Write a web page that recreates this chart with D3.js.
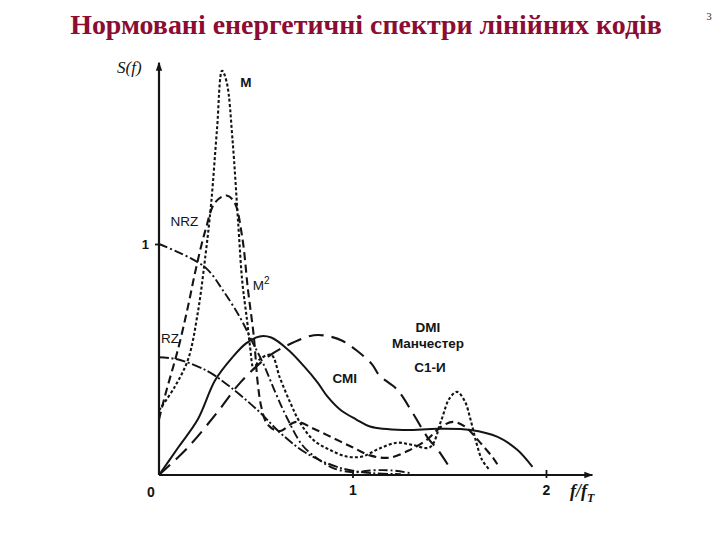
<!DOCTYPE html>
<html><head><meta charset="utf-8">
<script src="https://cdn.jsdelivr.net/npm/d3@7"></script>
<style>body{margin:0;background:#fff}svg{display:block}</style>
</head><body>
<svg id="c" width="720" height="540"></svg>
<script>
// ---- data (f / f_T , normalised S(f)) ----
const titleText = "Нормовані енергетичні спектри лінійних кодів";
const xTicks = [1, 2];
const yTicks = [1];
const seriesNames = ["M", "M2", "NRZ", "RZ", "CMI", "DMI"];
const M = [[0,0.28],[0.08,0.38],[0.15,0.5],[0.2,0.7],[0.24,0.95],[0.27,1.18],[0.3,1.5],[0.326,1.75],[0.35,1.7],[0.38,1.45],[0.41,1.08],[0.43,0.84],[0.455,0.67],[0.47,0.56],[0.49,0.46],[0.52,0.5],[0.58,0.52],[0.625,0.42],[0.68,0.31],[0.73,0.225],[0.8,0.15],[0.88,0.11],[0.97,0.08],[1.05,0.08],[1.14,0.115],[1.23,0.14],[1.31,0.13],[1.4,0.12],[1.46,0.24],[1.5,0.33],[1.54,0.36],[1.58,0.32],[1.61,0.24],[1.64,0.14],[1.67,0.065],[1.71,0.02]];
const M2 = [[0,0.24],[0.03,0.34],[0.1,0.55],[0.15,0.73],[0.19,0.89],[0.24,1.06],[0.29,1.18],[0.35,1.21],[0.39,1.18],[0.43,1.03],[0.46,0.8],[0.49,0.6],[0.51,0.4],[0.53,0.29],[0.56,0.22],[0.62,0.19],[0.71,0.23],[0.8,0.2],[0.9,0.16],[1.0,0.12],[1.09,0.085],[1.19,0.075],[1.3,0.11],[1.38,0.15],[1.46,0.21],[1.52,0.23],[1.58,0.21],[1.66,0.14],[1.73,0.07],[1.76,0.03]];
const NRZ = [[0,1.0],[0.16,0.94],[0.25,0.89],[0.33,0.8],[0.42,0.68],[0.48,0.58],[0.54,0.48],[0.6,0.36],[0.66,0.25],[0.74,0.13],[0.82,0.07],[0.9,0.03],[1.0,0.012],[1.1,0.02],[1.2,0.02],[1.3,0.008]];
const RZ = [[0,0.51],[0.1,0.5],[0.25,0.45],[0.37,0.38],[0.51,0.28],[0.63,0.18],[0.76,0.095],[0.94,0.03],[1.1,0.008],[1.25,0.004]];
const CMI = [[0,0],[0.1,0.12],[0.2,0.24],[0.29,0.41],[0.38,0.51],[0.45,0.57],[0.52,0.6],[0.58,0.595],[0.67,0.54],[0.75,0.47],[0.82,0.4],[0.87,0.34],[0.94,0.28],[1.02,0.24],[1.09,0.21],[1.26,0.195],[1.44,0.2],[1.61,0.195],[1.75,0.165],[1.85,0.11],[1.93,0.035]];
const DMI = [[0,0],[0.15,0.12],[0.3,0.27],[0.42,0.4],[0.56,0.51],[0.66,0.56],[0.8,0.605],[0.88,0.6],[0.95,0.58],[1.02,0.54],[1.1,0.48],[1.14,0.43],[1.23,0.37],[1.31,0.27],[1.39,0.16],[1.44,0.11],[1.5,0.035]];
const labels = [
  {t:"M", f:0.42, s:1.68, bold:true},
  {t:"NRZ", f:0.06, s:1.08, bold:false},
  {t:"M", sup:"2", f:0.485, s:0.8, bold:false},
  {t:"RZ", f:0.01, s:0.57, bold:false},
  {t:"DMI", f:1.39, s:0.62, bold:true, anchor:"middle"},
  {t:"Манчестер", f:1.39, s:0.55, bold:true, anchor:"middle"},
  {t:"С1-И", f:1.4, s:0.447, bold:true, anchor:"middle"},
  {t:"CMI", f:0.96, s:0.4, bold:true, anchor:"middle"}
];

const svg = d3.select("#c");
const x = d3.scaleLinear().domain([0, 2]).range([159, 546]);
const y = d3.scaleLinear().domain([0, 1]).range([475, 244]);
const ink = "#141414";

// title
const title = svg.append("text").attr("x", 366).attr("y", 34).attr("text-anchor","middle")
  .attr("font-family","Liberation Serif, Times New Roman, serif").attr("font-size",26)
  .attr("font-weight","bold").attr("fill","#8c0c32").text(titleText);
const w = title.node().getComputedTextLength();
title.attr("font-size", 26 * 592 / w);
svg.append("text").attr("x",709).attr("y",20).attr("text-anchor","middle")
  .attr("font-family","Liberation Serif, serif").attr("font-size",11).attr("fill","#333").text("3");

// arrow marker
svg.append("defs").append("marker").attr("id","arr").attr("viewBox","0 0 10 10")
  .attr("refX",9).attr("refY",5).attr("markerWidth",9).attr("markerHeight",9)
  .attr("markerUnits","userSpaceOnUse").attr("orient","auto")
  .append("path").attr("d","M0,1.5 L10,5 L0,8.5 Z").attr("fill",ink);

// axes
svg.append("line").attr("x1",x(0)).attr("y1",y(0)).attr("x2",x(2.24)).attr("y2",y(0))
  .attr("stroke",ink).attr("stroke-width",2.2).attr("marker-end","url(#arr)");
svg.append("line").attr("x1",x(0)).attr("y1",y(0)).attr("x2",x(0)).attr("y2",y(1.785))
  .attr("stroke",ink).attr("stroke-width",2.2).attr("marker-end","url(#arr)");

const xa = svg.append("g").attr("transform",`translate(0,${y(0)})`)
  .call(d3.axisBottom(x).tickValues(xTicks).tickSize(4).tickFormat(d3.format("d")));
xa.select(".domain").remove();
xa.selectAll(".tick line").attr("stroke",ink).attr("stroke-width",1.8).attr("y1",-5).attr("y2",3);
xa.selectAll(".tick text").attr("font-family","Liberation Sans, Arial, sans-serif")
  .attr("font-size",14).attr("font-weight","bold").attr("fill",ink).attr("dy","0.95em");
svg.append("text").attr("x",x(0)-8).attr("y",y(0)+22).attr("text-anchor","middle")
  .attr("font-family","Liberation Sans, Arial, sans-serif").attr("font-size",14)
  .attr("font-weight","bold").attr("fill",ink).text("0");

const ya = svg.append("g").attr("transform",`translate(${x(0)},0)`)
  .call(d3.axisLeft(y).tickValues(yTicks).tickSize(4).tickFormat(d3.format("d")));
ya.select(".domain").remove();
ya.selectAll(".tick line").attr("stroke",ink).attr("stroke-width",1.8);
ya.selectAll(".tick text").attr("font-family","Liberation Sans, Arial, sans-serif")
  .attr("font-size",13).attr("font-weight","bold").attr("fill",ink).attr("x",-10);

// axis titles
svg.append("text").attr("x",117).attr("y",73)
  .attr("font-family","Liberation Serif, Times New Roman, serif").attr("font-style","italic")
  .attr("font-size",17).attr("fill",ink).text("S(f)");
const ft = svg.append("text").attr("x",570).attr("y",497)
  .attr("font-family","Liberation Serif, Times New Roman, serif").attr("font-style","italic")
  .attr("font-weight","bold").attr("font-size",18).attr("fill",ink);
ft.append("tspan").text("f/f");
ft.append("tspan").attr("font-size",12).attr("dy",5).text("T");

// curves
const line = d3.line().x(d => x(d[0])).y(d => y(d[1])).curve(d3.curveCatmullRom.alpha(0.5));
const series = [
  {d:M, dash:"3,2.2", w:2.1},
  {d:M2, dash:"8,4.5", w:2.1},
  {d:NRZ, dash:"9,3,2,3", w:1.9},
  {d:RZ, dash:"10,2.5,2,2.5", w:1.9},
  {d:CMI, dash:null, w:2.0},
  {d:DMI, dash:"15,8", w:2.1}
];
svg.append("g").selectAll("path").data(series).join("path")
  .attr("d", s => line(s.d)).attr("fill","none").attr("stroke",ink)
  .attr("stroke-width", s => s.w).attr("stroke-dasharray", s => s.dash)
  .attr("stroke-linecap","butt");

// labels
const lg = svg.append("g").attr("font-family","Liberation Sans, Arial, sans-serif")
  .attr("font-size",13.5).attr("fill",ink);
labels.forEach(l => {
  const t = lg.append("text").attr("x", x(l.f)).attr("y", y(l.s))
    .attr("text-anchor", l.anchor || "start").attr("font-weight", l.bold ? "bold" : "normal").text(l.t);
  if (l.sup) t.append("tspan").attr("font-size",10).attr("dy",-6).text(l.sup);
});
</script>
</body></html>
